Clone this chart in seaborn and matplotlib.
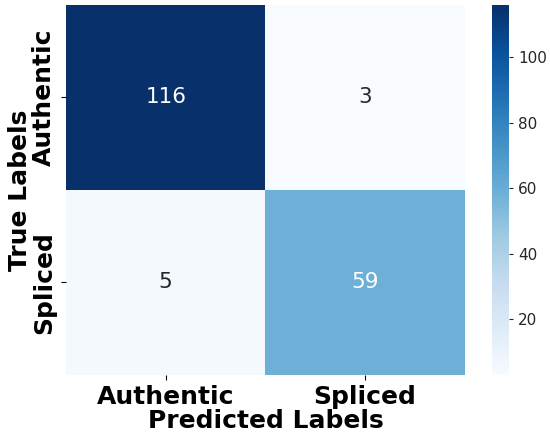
import matplotlib
matplotlib.use("Agg")
import matplotlib.pyplot as plt
import numpy as np
import pandas as pd
import seaborn as sns

class_names = ["Authentic", "Spliced"]
authentic_row = [116, 3]
spliced_row = [5, 59]

cm = pd.DataFrame([authentic_row, spliced_row], index=class_names, columns=class_names)

fig = plt.figure(figsize=(5.5, 4.4), dpi=100)
ax = fig.add_axes([0.12, 0.148, 0.725, 0.841])
cax = fig.add_axes([0.895, 0.148, 0.031, 0.841])

sns.heatmap(cm, annot=True, fmt="d", cmap="Blues", ax=ax, cbar_ax=cax,
            annot_kws={"size": 15.5})

ax.set_xlabel("Predicted Labels", fontsize=18, fontweight="bold", labelpad=0)
ax.set_ylabel("True Labels", fontsize=18, fontweight="bold", labelpad=0)
ax.set_xticklabels(class_names, fontsize=18, fontweight="bold")
ax.set_yticklabels(class_names, fontsize=18, fontweight="bold", rotation=90, va="center")
cax.tick_params(labelsize=11, colors="#262626", length=3)
cax.set_yticks([20, 40, 60, 80, 100])

plt.savefig("out.png", dpi=100)
